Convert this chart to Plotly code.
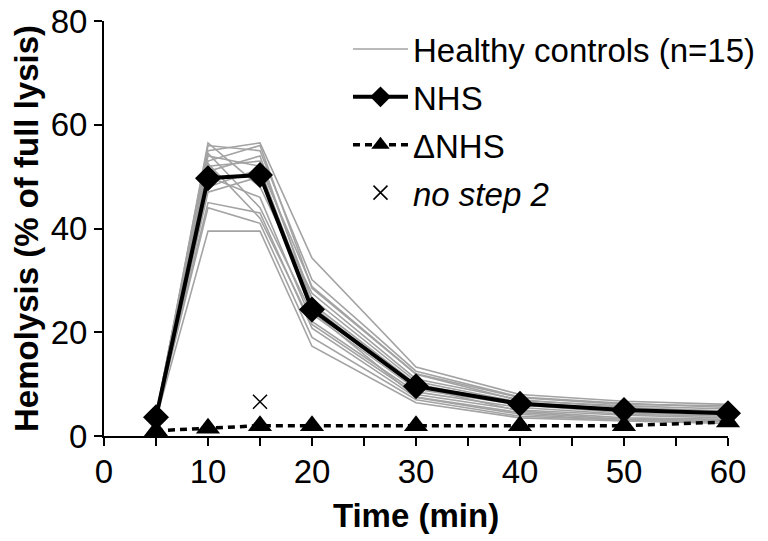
import plotly.graph_objects as go

# ---- data ----
time_min = [5, 10, 15, 20, 30, 40, 50, 60]

controls = [
    [3.5, 56.5, 48.0, 27.5, 11.0, 7.0, 5.5, 4.8],
    [3.8, 56.0, 55.0, 30.1, 12.5, 7.5, 6.3, 5.5],
    [4.0, 55.0, 56.5, 34.3, 13.3, 8.0, 6.7, 6.1],
    [3.2, 54.5, 44.0, 23.5, 9.0, 6.0, 4.5, 4.0],
    [3.6, 54.0, 52.0, 28.8, 12.0, 7.4, 6.1, 5.8],
    [3.4, 53.0, 56.0, 28.5, 11.9, 6.8, 5.8, 5.2],
    [3.9, 52.5, 42.0, 21.5, 8.0, 5.0, 4.0, 3.5],
    [3.3, 52.0, 53.0, 26.5, 10.5, 6.5, 5.2, 4.5],
    [3.7, 51.0, 54.0, 25.5, 10.0, 6.2, 5.0, 4.3],
    [3.1, 50.0, 46.0, 22.1, 8.5, 5.5, 4.2, 3.8],
    [3.5, 48.0, 51.5, 25.0, 9.5, 4.8, 3.5, 3.2],
    [3.0, 47.0, 50.0, 24.0, 7.5, 4.5, 3.2, 3.0],
    [3.6, 45.0, 43.0, 20.8, 7.4, 4.2, 3.0, 2.7],
    [3.4, 44.0, 41.0, 19.0, 7.0, 3.8, 3.1, 2.9],
    [3.2, 39.5, 39.5, 17.3, 6.4, 3.5, 2.9, 2.4],
]

nhs = [3.6, 49.7, 50.3, 24.4, 9.6, 6.2, 5.0, 4.4]
delta_nhs = [1.0, 1.5, 2.0, 2.0, 2.0, 2.0, 2.0, 2.7]

no_step2_time = [15]
no_step2_value = [6.6]

x_ticks = [0, 10, 20, 30, 40, 50, 60]
y_ticks = [0, 20, 40, 60, 80]

FONT = "Liberation Sans, Arial, sans-serif"
FS = 33

fig = go.Figure()

for i, c in enumerate(controls):
    fig.add_trace(go.Scatter(
        x=time_min, y=c, mode="lines",
        line=dict(color="#a3a3a3", width=1.6),
        name="Healthy controls (n=15)",
        legendgroup="hc", showlegend=(i == 0),
        cliponaxis=False,
    ))

fig.add_trace(go.Scatter(
    x=time_min, y=nhs, mode="lines+markers",
    line=dict(color="black", width=4),
    marker=dict(symbol="diamond", size=20, color="black"),
    name="NHS", legendgroup="nhs", cliponaxis=False,
))

fig.add_trace(go.Scatter(
    x=time_min, y=delta_nhs, mode="lines+markers",
    line=dict(color="black", width=3.5, dash="7px,5px"),
    marker=dict(symbol="triangle-up", size=21, color="black"),
    name="\u0394NHS", legendgroup="dnhs", cliponaxis=False,
))

fig.add_trace(go.Scatter(
    x=no_step2_time, y=no_step2_value, mode="markers",
    marker=dict(symbol="x-thin-open", size=14, color="black",
                line=dict(width=1.5, color="black")),
    name="<i>no step 2</i>", legendgroup="ns2", cliponaxis=False,
))

fig.update_layout(
    width=760, height=533,
    margin=dict(l=96, r=40, t=13, b=105, autoexpand=False),
    paper_bgcolor="white", plot_bgcolor="white",
    font=dict(family=FONT, size=FS, color="black"),
    showlegend=True,
    legend=dict(
        x=0.391, y=1.0, xanchor="left", yanchor="top",
        bgcolor="rgba(0,0,0,0)", borderwidth=0,
        font=dict(family=FONT, size=FS, color="black"),
        itemwidth=55, tracegroupgap=2, traceorder="grouped",
    ),
    xaxis=dict(
        range=[0, 60], tickvals=x_ticks, ticktext=[str(v) for v in x_ticks],
        showline=True, linecolor="black", linewidth=2,
        ticks="outside", ticklen=8, tickwidth=2, tickcolor="black",
        minor=dict(dtick=5, ticks="outside", ticklen=8, tickwidth=2, tickcolor="black"),
        showgrid=False, zeroline=False, automargin=False,
        ticklabeloverflow="allow", ticklabelstandoff=-3,
        tickfont=dict(family=FONT, size=FS, color="black"),
        title=dict(text="Time (min)", font=dict(family=FONT, size=FS, color="black", weight="bold"),
                   standoff=15),
    ),
    yaxis=dict(
        range=[0, 80], tickvals=y_ticks, ticktext=[str(v) for v in y_ticks],
        showline=True, linecolor="black", linewidth=2,
        ticks="outside", ticklen=8, tickwidth=2, tickcolor="black",
        showgrid=False, zeroline=False, automargin=False,
        ticklabeloverflow="allow",
        tickfont=dict(family=FONT, size=FS, color="black"),
        title=dict(text="Hemolysis (% of full lysis)",
                   font=dict(family=FONT, size=FS, color="black", weight="bold"),
                   standoff=5),
    ),
)

fig.write_html("out.html")
